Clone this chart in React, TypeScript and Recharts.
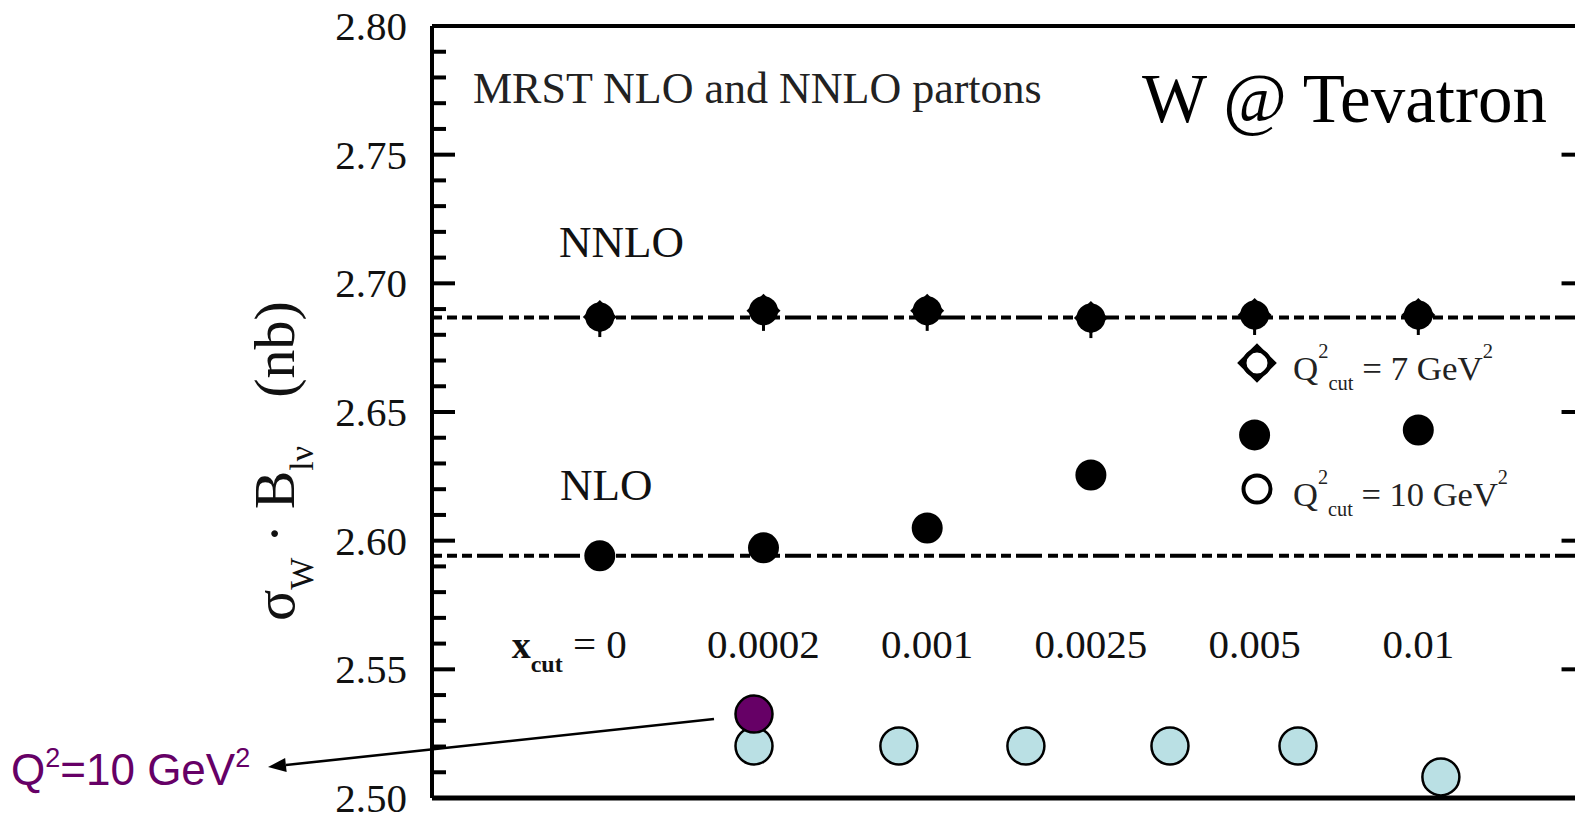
import { ScatterChart, Scatter, XAxis, YAxis, ReferenceLine } from 'recharts';

// x positions are in "cut index" units: 0..5 are the x_cut values
const cutLabels = ['0', '0.0002', '0.001', '0.0025', '0.005', '0.01'];
const cutIndex = [0, 1, 2, 3, 4, 5];
const nnloValues = [2.6869, 2.6893, 2.6893, 2.6865, 2.6877, 2.6877];
const nloValues = [2.5941, 2.5972, 2.6049, 2.6255, 2.6411, 2.643];
const nnloBaseline = 2.6867;
const nloBaseline = 2.5941;

// overlay points (Q^2 = 10 GeV^2 study)
const q2Pos = [0.942, 1.827, 2.603, 3.483, 4.265, 5.138];
const q2Values = [2.5202, 2.5202, 2.5202, 2.5202, 2.5202, 2.5082];
const q2HighPos = [0.942];
const q2HighValues = [2.5326];

const majorTicks = [2.5, 2.55, 2.6, 2.65, 2.7, 2.75, 2.8];

const W = 1600;
const H = 814;
const PLOT_LEFT = 432;
const X_MIN = -1.025;
const X_MAX = 6;
const LABEL_Y = 2.5544;
const SERIF = '"Liberation Serif", "Times New Roman", serif';
const PURPLE = '#660066';
const CYAN = '#bae0e4';

const allTicks: number[] = [];
for (let i = 0; i <= 30; i++) allTicks.push(Math.round((2.5 + i * 0.01) * 100) / 100);
const isMajor = (v: number) => Math.round(v * 100) % 5 === 0;

const nnloData = cutIndex.map((x, i) => ({ x, y: nnloValues[i] }));
const nloData = cutIndex.map((x, i) => ({ x, y: nloValues[i] }));
const q2Data = q2Pos.map((x, i) => ({ x, y: q2Values[i] }));
const q2HighData = q2HighPos.map((x, i) => ({ x, y: q2HighValues[i] }));
const labelData = cutIndex.map((x, i) => ({ x, y: LABEL_Y, label: cutLabels[i] }));

function LeftTick(props: any) {
  const { y, payload } = props;
  const v = payload.value as number;
  const major = isMajor(v);
  return (
    <g>
      <line x1={PLOT_LEFT} x2={PLOT_LEFT + (major ? 23 : 14)} y1={y} y2={y} stroke="#000" strokeWidth={4} />
      {major && (
        <text x={407} y={y} dy={14} textAnchor="end" fontFamily={SERIF} fontSize={41} fill="#111">
          {v.toFixed(2)}
        </text>
      )}
    </g>
  );
}

function NnloMarker(props: any) {
  const { cx, cy } = props;
  return (
    <g>
      <circle cx={cx} cy={cy} r={14.5} fill="#000" />
      <path d={`M${cx - 17},${cy} L${cx},${cy - 17} L${cx + 17},${cy} L${cx},${cy + 16} Z`} fill="#000" />
      <rect x={cx - 1.5} y={cy + 10} width={3} height={10} fill="#000" />
    </g>
  );
}

function NloMarker(props: any) {
  const { cx, cy } = props;
  return <circle cx={cx} cy={cy} r={15.5} fill="#000" />;
}

function Q2Marker(props: any) {
  const { cx, cy, fill } = props;
  return <ellipse cx={cx} cy={cy} rx={18.5} ry={18.5} fill={fill} stroke="#000" strokeWidth={2.5} />;
}

function CutLabel(props: any) {
  const { cx, cy, payload } = props;
  if (payload.label === '0') {
    return (
      <text x={cx + 27} y={cy} textAnchor="end" fontFamily={SERIF} fontSize={41} fill="#111">
        <tspan fontWeight="bold" fontSize={38}>x</tspan>
        <tspan dy={14} fontSize={24} fontWeight="bold">cut</tspan>
        <tspan dy={-14}> = 0</tspan>
      </text>
    );
  }
  return (
    <text x={cx} y={cy} textAnchor="middle" fontFamily={SERIF} fontSize={41} fill="#111">
      {payload.label}
    </text>
  );
}

function Overlay() {
  // arrow from the highlighted point to the annotation
  const tip = { x: 268, y: 767 };
  const tail = { x: 714, y: 719 };
  const dx = tail.x - tip.x;
  const dy = tail.y - tip.y;
  const len = Math.hypot(dx, dy);
  const ux = dx / len;
  const uy = dy / len;
  const bx = tip.x + ux * 18;
  const by = tip.y + uy * 18;
  const nx = -uy * 7;
  const ny = ux * 7;
  const cx = 1257;
  return (
    <svg width={1575} height={814} style={{ position: 'absolute', left: 0, top: 0, pointerEvents: 'none' }}>
      <text x={473} y={103} fontFamily={SERIF} fontSize={44} fill="#222">MRST NLO and NNLO partons</text>
      <text x={1142} y={122} fontFamily={SERIF} fontSize={69} fill="#000">W @ Tevatron</text>
      <text x={559} y={257} fontFamily={SERIF} fontSize={45} fill="#111">NNLO</text>
      <text x={560} y={500} fontFamily={SERIF} fontSize={45} fill="#111">NLO</text>

      {/* legend */}
      <circle cx={cx} cy={363} r={12.5} fill="#fff" stroke="#000" strokeWidth={4} />
      <path d={`M${cx - 17},363 L${cx},${346} L${cx + 17},363 L${cx},${380} Z`} fill="none" stroke="#000" strokeWidth={4} />
      <circle cx={cx} cy={363} r={9.5} fill="#fff" />
      <text x={1293} y={380} fontFamily={SERIF} fontSize={34} fill="#222" textLength={200} lengthAdjust="spacingAndGlyphs">
        Q<tspan dy={-22} fontSize={20}>2</tspan><tspan dy={32} fontSize={20}>cut</tspan><tspan dy={-10}> = 7 GeV</tspan><tspan dy={-22} fontSize={20}>2</tspan>
      </text>
      <circle cx={cx} cy={489} r={13.5} fill="#fff" stroke="#000" strokeWidth={4} />
      <text x={1293} y={506} fontFamily={SERIF} fontSize={34} fill="#222" textLength={215} lengthAdjust="spacingAndGlyphs">
        Q<tspan dy={-22} fontSize={20}>2</tspan><tspan dy={32} fontSize={20}>cut</tspan><tspan dy={-10}> = 10 GeV</tspan><tspan dy={-22} fontSize={20}>2</tspan>
      </text>

      {/* y axis title */}
      <g transform="translate(294, 621) rotate(-90)">
        <text x={0} y={0} fontFamily={SERIF} fontSize={58} fill="#111">
          σ<tspan fontSize={34} dy={19}>W</tspan>
          <tspan fontSize={58} dy={-19}> · B</tspan>
          <tspan fontSize={34} dy={19}>lν</tspan>
          <tspan fontSize={58} dy={-19} dx={48}>(nb)</tspan>
        </text>
      </g>

      {/* annotation */}
      <line x1={tail.x} y1={tail.y} x2={bx} y2={by} stroke="#000" strokeWidth={2.5} />
      <polygon points={`${tip.x},${tip.y} ${bx + nx},${by + ny} ${bx - nx},${by - ny}`} fill="#000" />
      <text x={11} y={785} fontFamily='"Liberation Sans", Arial, sans-serif' fontSize={44} fill={PURPLE}>
        Q<tspan fontSize={27} dy={-18}>2</tspan>
        <tspan dy={18}>=10 GeV</tspan>
        <tspan fontSize={27} dy={-18}>2</tspan>
      </text>
    </svg>
  );
}

export default function App() {
  const dashes = '10 5 10 5 10 5 26 6';
  return (
    <div style={{ position: 'fixed', left: 0, top: 0, width: 1575, height: 814, overflow: 'hidden', background: '#fff' }}>
      <ScatterChart width={W} height={H} margin={{ top: 26, right: 18, bottom: 16, left: 332 }}>
        <XAxis
          type="number"
          dataKey="x"
          domain={[X_MIN, X_MAX]}
          allowDataOverflow
          tick={false}
          tickLine={false}
          height={0}
          axisLine={false}
        />
        <YAxis
          type="number"
          dataKey="y"
          domain={[2.5, 2.8]}
          allowDataOverflow
          ticks={allTicks}
          interval={0}
          width={100}
          tickLine={false}
          tick={(p: any) => <LeftTick {...p} />}
          axisLine={{ stroke: '#000', strokeWidth: 4 }}
        />
        <ReferenceLine y={2.8} stroke="#000" strokeWidth={4} ifOverflow="visible" />
        <ReferenceLine y={2.5} stroke="#000" strokeWidth={5} ifOverflow="visible" />
        {majorTicks.slice(1, -1).map((t) => (
          <ReferenceLine
            key={t}
            segment={[{ x: X_MAX - 0.125, y: t }, { x: X_MAX, y: t }]}
            stroke="#000"
            strokeWidth={4}
          />
        ))}
        <ReferenceLine y={nnloBaseline} stroke="#000" strokeWidth={4} strokeDasharray={dashes} />
        <ReferenceLine y={nloBaseline} stroke="#000" strokeWidth={4} strokeDasharray={dashes} />
        <Scatter data={labelData} shape={(p: any) => <CutLabel {...p} />} isAnimationActive={false} />
        <Scatter data={nnloData} shape={(p: any) => <NnloMarker {...p} />} isAnimationActive={false} />
        <Scatter data={nloData} shape={(p: any) => <NloMarker {...p} />} isAnimationActive={false} />
        <Scatter data={q2Data} fill={CYAN} shape={(p: any) => <Q2Marker {...p} />} isAnimationActive={false} />
        <Scatter data={q2HighData} fill={PURPLE} shape={(p: any) => <Q2Marker {...p} />} isAnimationActive={false} />
      </ScatterChart>
      <Overlay />
    </div>
  );
}
